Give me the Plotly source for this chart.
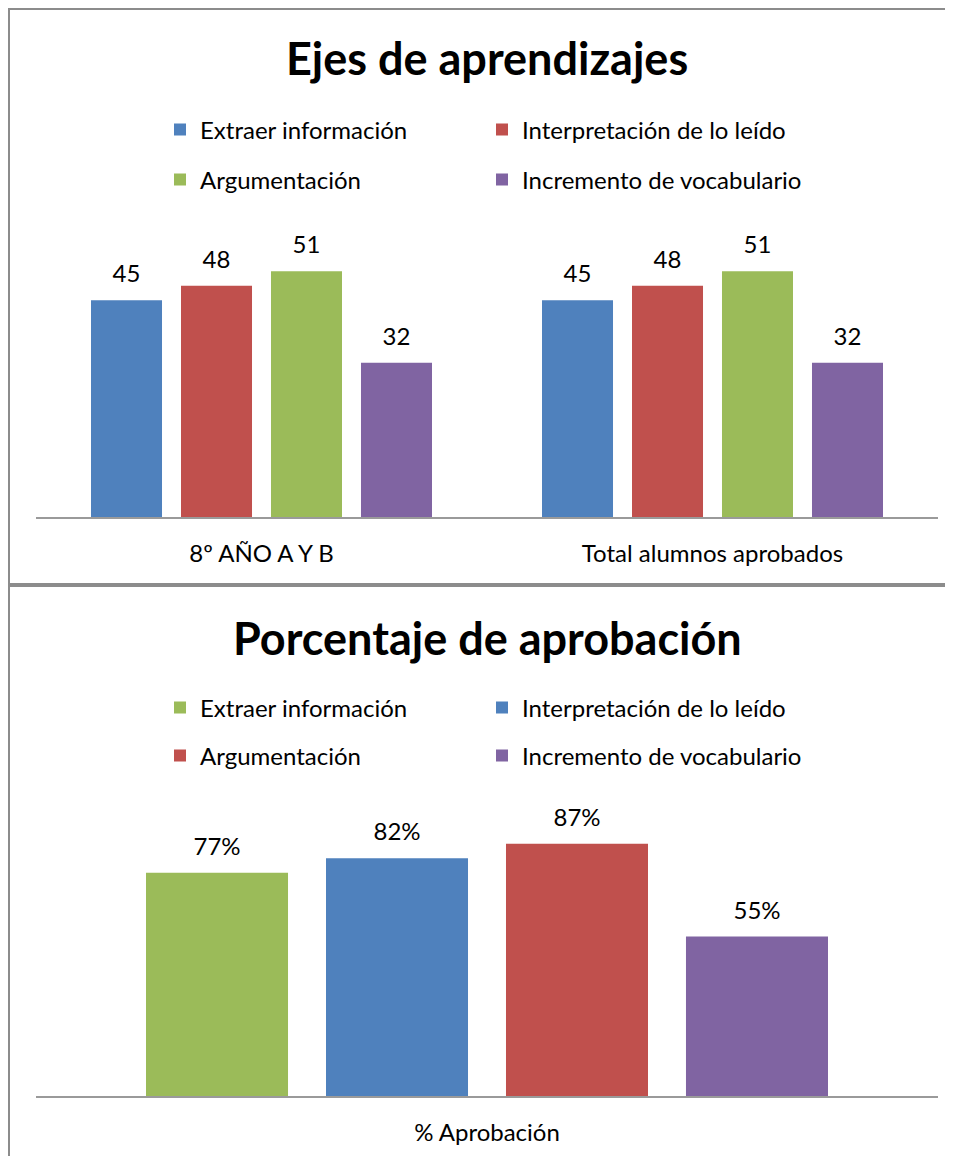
import plotly.graph_objects as go

# The page places the figure 8px in from the top-left corner (default body margin),
# so the figure is sized to end at the window edge and all layout pixel positions
# below are given in window coordinates and converted.
OFF = 8
W, H = 953 - OFF, 1156 - OFF

# ---------------- data ----------------
series_names = ["Extraer información", "Interpretación de lo leído",
                "Argumentación", "Incremento de vocabulario"]

top_categories = ["8º AÑO A Y B", "Total alumnos aprobados"]
extraer_vals = [45, 45]
interpretacion_vals = [48, 48]
argumentacion_vals = [51, 51]
incremento_vals = [32, 32]

bottom_categories = ["% Aprobación"]
pct_extraer = [0.77]
pct_interpretacion = [0.82]
pct_argumentacion = [0.87]
pct_incremento = [0.55]

top_title = "Ejes de aprendizajes"
bottom_title = "Porcentaje de aprobación"

# ---------------- style ----------------
BLUE, RED, GREEN, PURPLE = "#4F81BD", "#C0504D", "#9BBB59", "#8064A2"
top_colors = [BLUE, RED, GREEN, PURPLE]
bottom_colors = [GREEN, BLUE, RED, PURPLE]
FONT = "Lato, Calibri, Carlito, sans-serif"
LBL = 24
TITLE = 45


def py(p):  # window pixel y (from top) -> paper
    return 1 - (p - OFF) / H


def px(p):  # window pixel x -> paper
    return (p - OFF) / W


fig = go.Figure()

label_tpl = "<span style='font-size:%dpx'>%s</span><br><span style='color:rgba(0,0,0,0)'>.</span>"

top_vals = [extraer_vals, interpretacion_vals, argumentacion_vals, incremento_vals]
for i, (name, vals, col) in enumerate(zip(series_names, top_vals, top_colors)):
    fig.add_trace(go.Bar(
        x=top_categories, y=vals, name=name, marker_color=col,
        marker_line_width=0,
        xaxis="x", yaxis="y", legend="legend" if i == 0 else f"legend{i+1}",
        texttemplate=label_tpl % (LBL, "%{y}"),
        textposition="outside", constraintext="none", cliponaxis=False,
        textfont=dict(size=10, color="#000", family=FONT),
        hoverinfo="skip",
    ))

bottom_vals = [pct_extraer, pct_interpretacion, pct_argumentacion, pct_incremento]
for i, (name, vals, col) in enumerate(zip(series_names, bottom_vals, bottom_colors)):
    fig.add_trace(go.Bar(
        x=bottom_categories, y=vals, name=name, marker_color=col,
        marker_line_width=0,
        xaxis="x2", yaxis="y2", legend=f"legend{i+5}",
        texttemplate=label_tpl % (LBL, "%{y:.0%}"),
        textposition="outside", constraintext="none", cliponaxis=False,
        textfont=dict(size=10, color="#000", family=FONT),
        hoverinfo="skip",
    ))

axis_common = dict(showgrid=False, zeroline=False, ticks="", showline=True,
                   linecolor="#9a9a9a", linewidth=2,
                   tickfont=dict(size=LBL, color="#000", family=FONT),
                   ticklabelstandoff=14, fixedrange=True)
yaxis_common = dict(showgrid=False, zeroline=False, showticklabels=False,
                    showline=False, ticks="", fixedrange=True)

# legends: 2x2 grid per chart
leg_x = [160, 482, 160, 482]
top_rows = [130, 130, 180, 180]
bot_rows = [708, 708, 756, 756]
legends = {}
for i in range(4):
    key = "legend" if i == 0 else f"legend{i+1}"
    common = dict(xanchor="left", yanchor="middle", bgcolor="rgba(0,0,0,0)",
                  font=dict(size=LBL, color="#000", family=FONT),
                  itemclick=False, itemdoubleclick=False)
    legends[key] = dict(x=px(leg_x[i]), y=py(top_rows[i]), **common)
    legends[f"legend{i+5}"] = dict(x=px(leg_x[i]), y=py(bot_rows[i]), **common)

BORDER_X = 9  # left chart border (as far left as the page allows)
BX = px(BORDER_X)
RIGHT = 1.2   # borders run off the right edge


def open_frame(y_top, y_bot):
    parts = [f"M {RIGHT} {y_top}", f"L {BX} {y_top}", f"L {BX} {y_bot}"]
    if y_bot > -0.5:
        parts.append(f"L {RIGHT} {y_bot}")
    return " ".join(parts)


fig.update_layout(
    width=W, height=H, margin=dict(l=0, r=0, t=0, b=0),
    paper_bgcolor="white", plot_bgcolor="white",
    barmode="group", bargap=0.2018, bargroupgap=0.211,
    font=dict(family=FONT, color="#000"),
    xaxis=dict(domain=[px(36), px(938)], anchor="y", **axis_common),
    yaxis=dict(domain=[py(517), py(228)], range=[0, 60], anchor="x", **yaxis_common),
    xaxis2=dict(domain=[px(36), px(938)], anchor="y2", **axis_common),
    yaxis2=dict(domain=[py(1096), py(806)], range=[0, 1], anchor="x2", **yaxis_common),
    showlegend=True,
    **legends,
    annotations=[
        dict(text=f"<b>{top_title}</b>", x=px(487), y=py(58), xref="paper", yref="paper",
             xanchor="center", yanchor="middle", showarrow=False,
             font=dict(size=TITLE, color="#000", family=FONT)),
        dict(text=f"<b>{bottom_title}</b>", x=px(487), y=py(638), xref="paper", yref="paper",
             xanchor="center", yanchor="middle", showarrow=False,
             font=dict(size=TITLE, color="#000", family=FONT)),
    ],
    shapes=[
        dict(type="path", xref="paper", yref="paper", path=open_frame(py(9), py(584)),
             line=dict(color="#8c8c8c", width=2), layer="below"),
        dict(type="path", xref="paper", yref="paper", path=open_frame(py(586), -1),
             line=dict(color="#8c8c8c", width=2), layer="below"),
    ],
)

fig.write_html("out.html")
